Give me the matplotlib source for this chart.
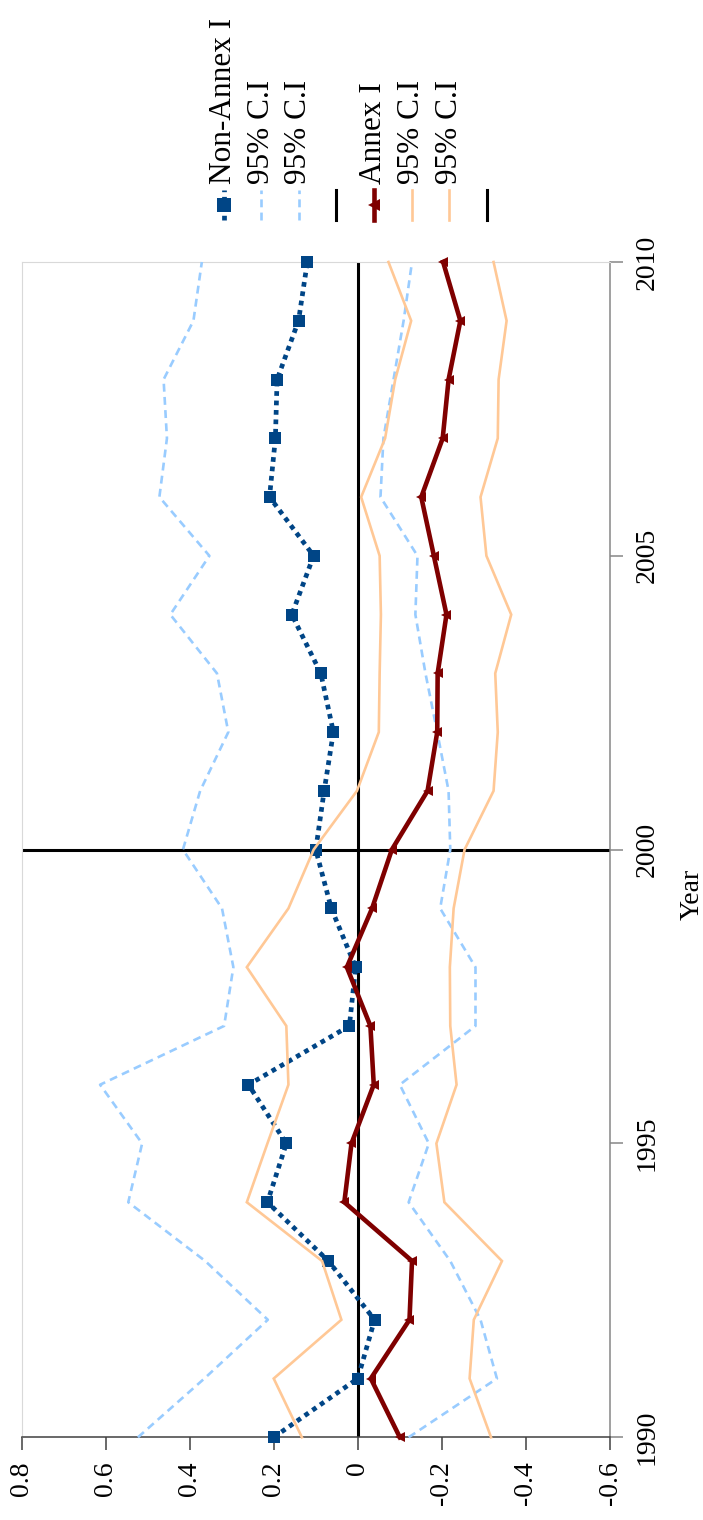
import matplotlib
matplotlib.use("Agg")
import matplotlib.pyplot as plt
from matplotlib.ticker import MultipleLocator, FuncFormatter

plt.rcParams["font.family"] = ["Liberation Serif", "DejaVu Serif"]
plt.rcParams["axes.unicode_minus"] = False

# ---- data -------------------------------------------------------------
years = list(range(1990, 2011))

non_annex = [0.200, 0.000, -0.040, 0.070, 0.215, 0.170, 0.260, 0.020, 0.005, 0.063,
             0.100, 0.080, 0.058, 0.088, 0.157, 0.105, 0.210, 0.196, 0.192, 0.141, 0.120]
non_annex_upper = [0.523, 0.365, 0.214, 0.363, 0.546, 0.513, 0.613, 0.318, 0.296, 0.323,
                   0.416, 0.375, 0.308, 0.335, 0.446, 0.353, 0.472, 0.454, 0.462, 0.391, 0.371]
non_annex_lower = [-0.121, -0.331, -0.292, -0.220, -0.121, -0.169, -0.100, -0.280, -0.280, -0.196,
                   -0.220, -0.216, -0.189, -0.161, -0.137, -0.142, -0.054, -0.061, -0.085, -0.109, -0.129]

annex = [-0.100, -0.031, -0.123, -0.129, 0.032, 0.015, -0.038, -0.030, 0.026, -0.034,
         -0.081, -0.166, -0.189, -0.190, -0.211, -0.181, -0.151, -0.202, -0.216, -0.244, -0.203]
annex_upper = [0.133, 0.200, 0.039, 0.085, 0.264, 0.215, 0.165, 0.170, 0.264, 0.165,
               0.105, 0.002, -0.050, -0.052, -0.055, -0.052, -0.008, -0.065, -0.089, -0.127, -0.073]
annex_lower = [-0.317, -0.266, -0.276, -0.343, -0.206, -0.187, -0.235, -0.220, -0.219, -0.228,
               -0.254, -0.323, -0.333, -0.327, -0.365, -0.306, -0.292, -0.333, -0.335, -0.354, -0.323]

zero_level = 0.0
split_year = 2000

value_range = (0.8, -0.6)
year_range = (1990, 2010)

legend_labels = ["Non-Annex I", "95% C.I", "95% C.I", "",
                 "Annex I", "95% C.I", "95% C.I", ""]

# ---- styles -----------------------------------------------------------
BLUE = "#004586"
LIGHT_BLUE = "#99CCFF"
DARK_RED = "#7F0000"
PEACH = "#FFC896"

styles = [
    dict(color=BLUE, lw=3.4, ls=(0, (1, 1)), marker="s", ms=8.5),
    dict(color=LIGHT_BLUE, lw=1.9, ls=(0, (3, 2))),
    dict(color=LIGHT_BLUE, lw=1.9, ls=(0, (3, 2))),
    dict(color="black", lw=2.2, ls="-"),
    dict(color=DARK_RED, lw=3.3, ls="-", marker="<", ms=7),
    dict(color=PEACH, lw=1.9, ls="-"),
    dict(color=PEACH, lw=1.9, ls="-"),
    dict(color="black", lw=2.2, ls="-"),
]

W, H = 703, 1520
fig = plt.figure(figsize=(W / 100, H / 100), dpi=100)

# plot box in pixel units
x_left, x_right = 21.5, 610.0
y_top, y_bottom = 262.0, 1437.3
ax = fig.add_axes([x_left / W, 1 - y_bottom / H,
                   (x_right - x_left) / W, (y_bottom - y_top) / H])

# reference lines
ax.axvline(zero_level, color="black", lw=2.2, zorder=1)
ax.axhline(split_year, color="black", lw=2.2, zorder=1)

series = [non_annex, non_annex_upper, non_annex_lower, None,
          annex, annex_upper, annex_lower, None]
for vals, st in zip(series, styles):
    if vals is None:
        continue
    ax.plot(vals, years, color=st["color"], lw=st["lw"], ls=st["ls"],
            marker=st.get("marker"), ms=st.get("ms", 0),
            markeredgewidth=0, clip_on=False, zorder=3,
            dash_capstyle="butt", solid_joinstyle="miter")

ax.set_xlim(*value_range)
ax.set_ylim(*year_range)

ax.xaxis.set_major_locator(MultipleLocator(0.2))
ax.yaxis.set_major_locator(MultipleLocator(5))
ax.xaxis.set_major_formatter(FuncFormatter(lambda v, p: "0" if abs(v) < 1e-9 else f"{v:.1f}"))

ax.yaxis.tick_right()
ax.tick_params(axis="x", direction="out", length=9.4, width=1.1, color="#404040",
               pad=8, labelsize=20, labelrotation=90)
ax.tick_params(axis="y", direction="out", length=9, width=1.1, color="#868686",
               pad=9, labelsize=20, labelrotation=90)
for lbl in ax.get_yticklabels():
    lbl.set_verticalalignment("center")

ax.spines["bottom"].set_color("#404040")
ax.spines["bottom"].set_linewidth(1.1)
ax.spines["right"].set_color("#868686")
ax.spines["right"].set_linewidth(1.1)
ax.spines["left"].set_color("#D9D9D9")
ax.spines["top"].set_color("#D9D9D9")

ax.yaxis.set_label_position("right")
ax.set_ylabel("Year", fontsize=20, rotation=90)
ax.yaxis.set_label_coords((692 - x_left) / (x_right - x_left),
                          (y_bottom - 894) / (y_bottom - y_top))
ax.yaxis.label.set_verticalalignment("center")
ax.yaxis.label.set_horizontalalignment("center")

# ---- legend, written sideways along the top -------------------------
lax = fig.add_axes([0, 0, 1, 1], zorder=5)
lax.set_xlim(0, W)
lax.set_ylim(H, 0)
lax.axis("off")

entry_x0, entry_step = 223.5, 37.6
sample_top, sample_bottom = 190, 220
text_base = 184
for i, (lab, st) in enumerate(zip(legend_labels, styles)):
    x = entry_x0 + i * entry_step
    lax.plot([x, x], [sample_bottom, sample_top], color=st["color"], lw=st["lw"],
             ls=st["ls"], dash_capstyle="butt")
    if st.get("marker"):
        lax.plot([x], [(sample_top + sample_bottom) / 2], marker=st["marker"],
                 ms=st["ms"] + 2, color=st["color"], markeredgewidth=0)
    if lab:
        lax.text(x, text_base, lab, rotation=90, ha="center", va="bottom",
                 fontsize=22.5)

fig.savefig("out.png", dpi=100)
